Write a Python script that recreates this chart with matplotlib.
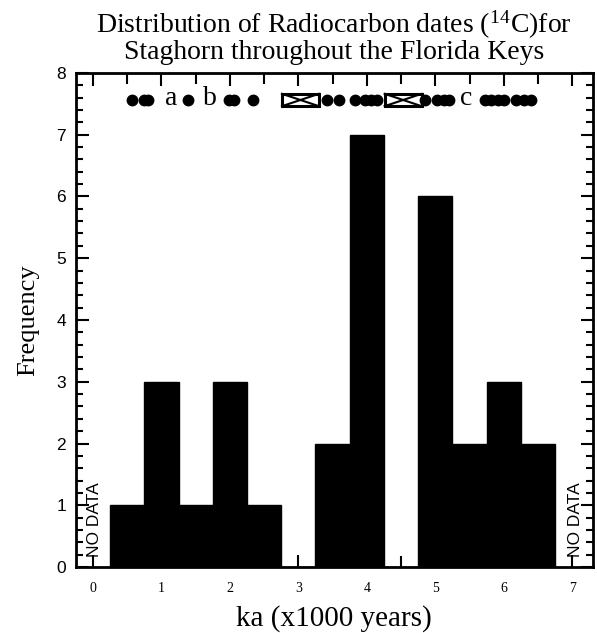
import matplotlib
matplotlib.use("Agg")
import matplotlib.pyplot as plt
from matplotlib.patches import Rectangle
from matplotlib.ticker import MultipleLocator

plt.rcParams["mathtext.fontset"] = "stix"

# histogram bins (ka) and counts
bin_centers = [0.5, 1.0, 1.5, 2.0, 2.5, 3.0, 3.5, 4.0, 4.5, 5.0, 5.5, 6.0, 6.5]
counts = [1, 3, 1, 3, 1, 0, 2, 7, 0, 6, 2, 3, 2]

# individual dates plotted along the top row
dot_ages = [0.57, 0.75, 0.80, 1.39, 1.99, 2.06, 2.34,
            3.42, 3.60, 3.83, 3.98, 4.06, 4.15,
            4.85, 5.03, 5.12, 5.20,
            5.73, 5.82, 5.91, 6.00, 6.18, 6.29, 6.40]
box_ages = [3.03, 4.53]
letters = ["a", "b", "c"]
letter_ages = [1.15, 1.71, 5.45]
row_y = 7.56

fig = plt.figure(figsize=(5.97, 6.33), dpi=100)
ax = fig.add_axes([0.127, 0.104, 0.866, 0.781])

ax.bar(bin_centers, counts, width=0.5, color="black", edgecolor="black", zorder=2)
ax.set_axisbelow(True)

ax.plot(dot_ages, [row_y] * len(dot_ages), "o", color="black", markersize=7.5, zorder=3)
for xb in box_ages:
    w, h = 0.54, 0.2
    ax.add_patch(Rectangle((xb - w / 2, row_y - h / 2), w, h, fill=False,
                           edgecolor="black", lw=2.2, zorder=3))
    ax.plot([xb - w / 2, xb + w / 2], [row_y - h / 2, row_y + h / 2], color="black", lw=1.5, zorder=3)
    ax.plot([xb - w / 2, xb + w / 2], [row_y + h / 2, row_y - h / 2], color="black", lw=1.5, zorder=3)
for lab, xl in zip(letters, letter_ages):
    ax.text(xl, row_y + 0.03, lab, family="Liberation Serif", fontsize=20,
            ha="center", va="center", zorder=3)

ax.text(0.03, 0.17, "NO DATA", rotation=90, family="Liberation Sans", fontsize=12.5,
        ha="center", va="bottom")
ax.text(7.05, 0.17, "NO DATA", rotation=90, family="Liberation Sans", fontsize=12.5,
        ha="center", va="bottom")

ax.set_xlim(-0.25, 7.3)
ax.set_ylim(0, 8)

ax.xaxis.set_major_locator(MultipleLocator(1))
ax.xaxis.set_minor_locator(MultipleLocator(0.5))
ax.yaxis.set_major_locator(MultipleLocator(1))
ax.yaxis.set_minor_locator(MultipleLocator(0.2))
ax.tick_params(which="both", direction="in", top=True, right=True, width=1.5)
ax.tick_params(which="major", length=9)
ax.tick_params(which="minor", length=5)
ax.tick_params(axis="x", which="minor", length=8)
ax.tick_params(axis="x", which="major", pad=11)
ax.tick_params(axis="y", which="major", pad=7)
for lab in ax.get_xticklabels():
    lab.set_family("Liberation Serif")
    lab.set_fontsize(10)
for lab in ax.get_yticklabels():
    lab.set_family("Liberation Sans")
    lab.set_fontsize(12.5)

for s in ax.spines.values():
    s.set_linewidth(2)

ax.set_title("Distribution of Radiocarbon dates ($^{\\mathregular{14}}$C)for\nStaghorn throughout the Florida Keys",
             family="Liberation Serif", fontsize=20, pad=10, linespacing=0.95)
ax.set_xlabel("ka (x1000 years)", family="Liberation Serif", fontsize=21, labelpad=7)
ax.set_ylabel("Frequency", family="Liberation Serif", fontsize=19, labelpad=12)

fig.savefig("out.png", dpi=100)
